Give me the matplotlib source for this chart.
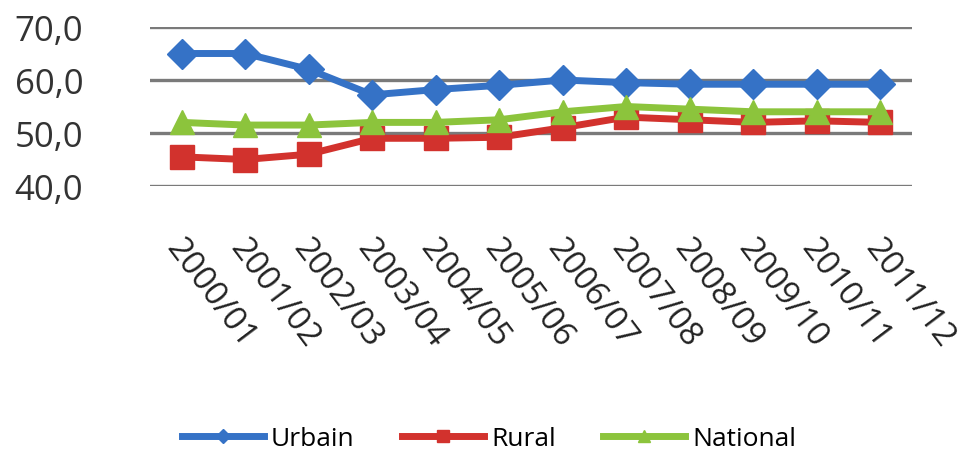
import numpy as np
import matplotlib.pyplot as plt
from matplotlib.transforms import ScaledTranslation

plt.rcParams['font.family'] = ['Open Sans', 'DejaVu Sans']

periods = ['2000/01', '2001/02', '2002/03', '2003/04', '2004/05', '2005/06',
           '2006/07', '2007/08', '2008/09', '2009/10', '2010/11', '2011/12']
urbain = [65.0, 65.0, 62.0, 57.2, 58.2, 59.0, 60.0, 59.5, 59.2, 59.2, 59.2, 59.2]
rural = [45.5, 45.0, 46.0, 49.0, 49.0, 49.2, 51.0, 53.0, 52.5, 52.0, 52.3, 52.0]
national = [52.0, 51.5, 51.5, 52.0, 52.0, 52.5, 54.0, 55.0, 54.5, 54.0, 54.0, 54.0]
yticks = [40, 50, 60, 70]

fig = plt.figure(figsize=(9.76, 4.56), dpi=100)
ax = fig.add_axes([150 / 976, 1 - 187 / 456, 762 / 976, 159 / 456])

x = np.arange(len(periods))
ax.plot(x, urbain, color='#3572C6', lw=5, marker='D', ms=15, label='Urbain')
ax.plot(x, rural, color='#D2322D', lw=5, marker='s', ms=17, label='Rural')
ax.plot(x, national, color='#8CC43C', lw=5, marker='^', ms=17, label='National')

ax.set_xlim(-0.5, len(periods) - 0.5)
ax.set_ylim(40, 70)
ax.set_yticks(yticks)
ax.set_yticklabels([f'{v:.1f}'.replace('.', ',') for v in yticks],
                   fontsize=25, color='#333333')
ax.yaxis.grid(True, color='#7a7a7a', lw=2.4)
ax.set_axisbelow(True)
for s in ax.spines.values():
    s.set_visible(False)
ax.tick_params(axis='y', length=0, pad=48)
ax.tick_params(axis='x', length=0, pad=33)

ax.set_xticks(x)
ax.set_xticklabels(periods, rotation=-53, ha='left', va='top',
                   rotation_mode='anchor', fontsize=24, color='#222222')
shift = ScaledTranslation(0.04, 0, fig.dpi_scale_trans)
for lbl in ax.get_xticklabels():
    lbl.set_transform(lbl.get_transform() + shift)

ax.legend(loc='center', bbox_to_anchor=(489 / 976, 1 - 440 / 456),
          bbox_transform=fig.transFigure, ncol=3, frameon=False,
          fontsize=19, handlelength=3.1, columnspacing=1.8,
          handletextpad=0.27, markerscale=0.5)

fig.savefig('out.png', dpi=100, facecolor='white')
